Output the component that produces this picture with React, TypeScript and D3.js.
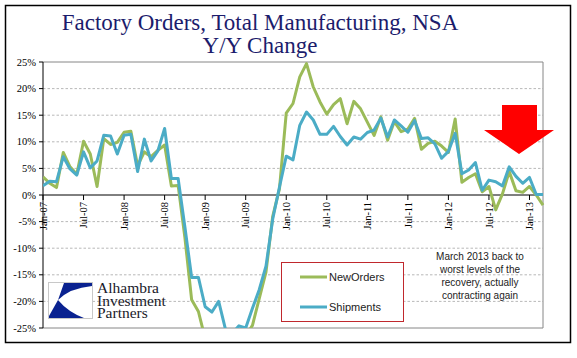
import * as d3 from "d3"

// Y/Y change, %, Jan-07 .. Mar-13 (monthly)
const newOrders = [
  3.4, 2.2, 1.4, 8.0, 5.3, 3.9, 10.1, 7.7, 1.6, 10.6, 9.5, 9.9,
  11.8, 12.0, 5.5, 8.1, 7.2, 8.4, 9.4, 1.7, 1.8, -8, -19.7, -21.9,
  -27, -29, -30, -31, -30, -28, -26.5, -24.5, -19.5, -14.5, -4, 1.2,
  15.4, 17.2, 22.2, 24.7, 20.3, 17.5, 15.2, 17.0, 18.1, 13.4, 17.6, 16.2,
  13.7, 11.2, 14.7, 10.3, 13.8, 11.9, 12.4, 14.4, 8.6, 9.7, 10.1, 9.2,
  8.0, 14.3, 2.4, 3.3, 4.0, 0.6, 1.6, -2.8, 0.2, 4.4, 0.8, 0.5,
  1.6, 0.0, -1.9,
]
const shipments = [
  1.75, 2.6, 2.5, 7.2, 4.9, 3.75, 8.1, 5.1, 6.4, 11.25, 11.1, 7.7,
  11.25, 11.4, 4.4, 10.5, 6.4, 8.3, 12.5, 3.1, 3.1, -6, -15.5, -15.5,
  -21, -22, -20, -25.2, -26, -24.6, -25, -21.3, -17.8, -13.4, -4.5, 1.5,
  7.3, 6.6, 13.1, 15.6, 14.1, 11.4, 11.4, 12.9, 11.0, 9.4, 10.9, 10.5,
  11.75, 12.2, 14.45, 10.9, 14.1, 13.0, 11.8, 14.0, 10.6, 10.75, 9.6, 6.9,
  8.2, 11.6, 4.0, 4.7, 6.1, 0.9, 2.8, 2.5, 1.7, 5.3, 3.5, 2.2,
  3.3, 0.1, 0.1,
]
const months = d3
  .timeMonth.range(new Date(2007, 0, 1), new Date(2013, 3, 1))
  .map(d3.timeFormat("%b-%y"))
const tickLabels = [
  "Jan-07", "Jul-07", "Jan-08", "Jul-08", "Jan-09", "Jul-09", "Jan-10",
  "Jul-10", "Jan-11", "Jul-11", "Jan-12", "Jul-12", "Jan-13",
]
const yTicks = [25, 20, 15, 10, 5, 0, -5, -10, -15, -20, -25]
const noteLines = [
  "March 2013 back to",
  "worst levels of the",
  "recovery, actually",
  "contracting again",
]
const logoLines = ["Alhambra", "Investment", "Partners"]

const GREEN = "#9bbb59"
const BLUE = "#4bacc6"

export default function App() {
  const left = 43
  const right = 543
  const top = 62
  const bottom = 328

  const x = d3.scalePoint<string>().domain(months).range([left, right]).padding(0)
  const y = d3.scaleLinear().domain([-25, 25]).range([bottom, top])

  const line = d3
    .line<number>()
    .x((_, i) => x(months[i]) ?? 0)
    .y((d) => y(d))

  const serif = "'Liberation Serif', 'Times New Roman', serif"
  const sans = "'Liberation Sans', Arial, sans-serif"

  return (
    <svg
      width={577}
      height={358}
      style={{ position: "absolute", left: 0, top: 0, background: "#fff" }}
    >
      <rect x={5.5} y={5.5} width={565} height={337} fill="#fff" stroke="#000" strokeWidth={1.5} />

      {/* title */}
      <text x={260} y={30} textAnchor="middle" fontFamily={serif} fontSize={23} fill="#1c1c6c">
        Factory Orders, Total Manufacturing, NSA
      </text>
      <text x={260} y={53} textAnchor="middle" fontFamily={serif} fontSize={23} fill="#1c1c6c">
        Y/Y Change
      </text>

      {/* gridlines */}
      {yTicks
        .filter((t) => t !== 0 && Math.abs(t) !== 25)
        .map((t) => (
          <line
            key={t}
            x1={left}
            x2={right}
            y1={y(t)}
            y2={y(t)}
            stroke="#a6a6a6"
            strokeWidth={0.8}
            strokeDasharray="2.5,2"
          />
        ))}

      {/* plot frame */}
      <path
        d={`M${left},${y(25)}H${right}V${y(-25)}H${left}`}
        fill="none"
        stroke="#868686"
        strokeWidth={1}
      />

      {/* y axis */}
      <line x1={left} x2={left} y1={top} y2={bottom} stroke="#000" strokeWidth={1} />
      {yTicks.map((t) => (
        <g key={t}>
          <line x1={left - 4} x2={left} y1={y(t)} y2={y(t)} stroke="#000" />
          <text
            x={36}
            y={y(t)}
            dy="0.35em"
            textAnchor="end"
            fontFamily={serif}
            fontSize={10.5}
            fill="#000"
          >
            {t}%
          </text>
        </g>
      ))}

      {/* x axis at 0% */}
      <line x1={left} x2={right} y1={y(0)} y2={y(0)} stroke="#000" strokeWidth={1} />
      {tickLabels.map((m) => {
        const px = x(m) ?? 0
        return (
          <g key={m}>
            <line x1={px} x2={px} y1={y(0)} y2={y(0) + 5} stroke="#000" />
            <text
              transform={`translate(${px},${y(0) + 7}) rotate(-90)`}
              dy="0.35em"
              textAnchor="end"
              fontFamily={serif}
              fontSize={10.5}
              fill="#000"
            >
              {m}
            </text>
          </g>
        )
      })}

      {/* series */}
      <defs>
        <clipPath id="plot">
          <rect x={left} y={top} width={right - left + 2} height={bottom - top} />
        </clipPath>
      </defs>
      <g clipPath="url(#plot)" fill="none" strokeWidth={3} strokeLinejoin="round">
        <path d={line(newOrders) ?? ""} stroke={GREEN} />
        <path d={line(shipments) ?? ""} stroke={BLUE} />
      </g>

      {/* red arrow */}
      <polygon
        points="502,105 537,105 537,130 554,130 519,154 484,130 502,130"
        fill="#ff0000"
      />

      {/* legend */}
      <rect x={281.5} y={262.5} width={122} height={59} fill="#fff" stroke="#c0282d" strokeWidth={1} />
      <line x1={300} x2={327} y1={277} y2={277} stroke={GREEN} strokeWidth={3} />
      <text x={329} y={281} fontFamily={sans} fontSize={11} fill="#222">
        NewOrders
      </text>
      <line x1={300} x2={327} y1={307} y2={307} stroke={BLUE} strokeWidth={3} />
      <text x={329} y={311} fontFamily={sans} fontSize={11} fill="#222">
        Shipments
      </text>

      {/* annotation */}
      {noteLines.map((s, i) => (
        <text
          key={s}
          x={480}
          y={260 + i * 13}
          textAnchor="middle"
          fontFamily={sans}
          fontSize={10}
          fill="#222"
        >
          {s}
        </text>
      ))}

      {/* logo */}
      <rect x={48.5} y={282.5} width={44} height={36} fill="#fff" stroke="#c8c8c8" />
      <path d="M58,300 L64,283 L92,283 L92,286 Q70,288 58,300 Z" fill="#0a2290" />
      <path d="M58,300 Q68,312 84,318 L49,318 L49,316 Z" fill="#0a2290" />
      {logoLines.map((s, i) => (
        <text key={s} x={97} y={293 + i * 12.5} fontFamily={serif} fontSize={15.5} fill="#1a1a2a">
          {s}
        </text>
      ))}
    </svg>
  )
}
